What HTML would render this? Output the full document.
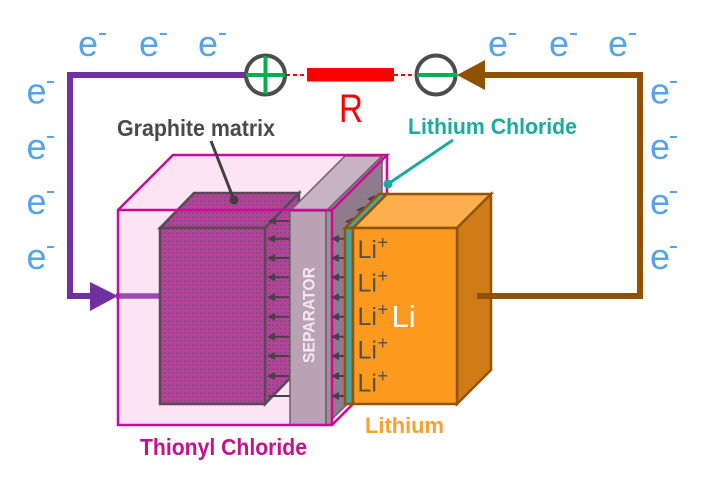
<!DOCTYPE html>
<html><head><meta charset="utf-8"><style>
html,body{margin:0;padding:0;background:#fff;}
svg{display:block;}
text{font-family:"Liberation Sans",Arial,sans-serif;}
</style></head><body>
<svg width="721" height="479" viewBox="0 0 721 479" xmlns="http://www.w3.org/2000/svg">
<defs>
<pattern id="g" width="4" height="4" patternUnits="userSpaceOnUse">
<rect width="4" height="4" fill="#be3ba2"/><rect width="2" height="2" fill="#76596f"/>
</pattern>
</defs>
<rect width="721" height="479" fill="#fff"/>

<!-- pink box fill -->
<polygon points="118,210 173,155 387,155 387,370 332,425 118,425" fill="#fce4f5"/>
<!-- light purple lead inside box -->
<line x1="116" y1="296" x2="162" y2="296" stroke="#9a4cb0" stroke-width="5.5"/>

<!-- graphite block -->
<g stroke="#5a4858" stroke-width="2.5" stroke-linejoin="miter">
<polygon points="265,228 299,193 299,369 265,404" fill="url(#g)"/>
<polygon points="160,228 194,193 299,193 265,228" fill="url(#g)"/>
<rect x="160" y="228" width="105" height="176" fill="url(#g)"/>
</g>

<!-- arrows graphite gap -->
<g stroke="#4e3c4b" stroke-width="2" fill="#4e3c4b">
<line x1="272" y1="221" x2="292" y2="221"/><polygon points="268,221 276,217 276,225" stroke="none"/>
<line x1="272" y1="238.7" x2="292" y2="238.7"/><polygon points="267,238.7 275,234.7 275,242.7" stroke="none"/>
<line x1="272" y1="258" x2="292" y2="258"/><polygon points="267,258 275,254 275,262" stroke="none"/>
<line x1="272" y1="277.3" x2="292" y2="277.3"/><polygon points="267,277.3 275,273.3 275,281.3" stroke="none"/>
<line x1="272" y1="297.3" x2="292" y2="297.3"/><polygon points="267,297.3 275,293.3 275,301.3" stroke="none"/>
<line x1="272" y1="316.7" x2="292" y2="316.7"/><polygon points="267,316.7 275,312.7 275,320.7" stroke="none"/>
<line x1="272" y1="336.7" x2="292" y2="336.7"/><polygon points="267,336.7 275,332.7 275,340.7" stroke="none"/>
<line x1="272" y1="356" x2="292" y2="356"/><polygon points="267,356 275,352 275,360" stroke="none"/>
<line x1="272" y1="376" x2="292" y2="376"/><polygon points="267,376 275,372 275,380" stroke="none"/>
<line x1="268" y1="396" x2="292" y2="396"/>
</g>

<!-- separator -->
<g stroke="#6e5e6c" stroke-width="1.5">
<polygon points="326,211 382,156 382,370 326,425" fill="#8f7b8d"/>
<polygon points="290,211 345,156 382,156 326,211" fill="#c6b4c4"/>
<rect x="290" y="211" width="36" height="214" fill="#b9a2b4"/>
<rect x="326" y="211" width="6" height="214" fill="#a38ea0"/>
</g>
<text transform="translate(314.5,363) rotate(-90)" font-size="17" font-weight="bold" fill="#f3e8f2" textLength="96" lengthAdjust="spacingAndGlyphs">SEPARATOR</text>

<!-- pink box outline -->
<g stroke="#cc0a96" stroke-width="2.5" fill="none">
<rect x="118" y="210" width="214" height="215"/>
<polyline points="118,210 173,155 387,155 332,210"/>
<polyline points="387,155 387,370 332,425"/>
</g>

<!-- arrows separator gap -->
<g stroke="#4e3c4b" stroke-width="2" fill="#4e3c4b">
<line x1="336" y1="238.7" x2="346" y2="238.7"/><polygon points="331,238.7 339,234.7 339,242.7" stroke="none"/>
<line x1="336" y1="258" x2="346" y2="258"/><polygon points="331,258 339,254 339,262" stroke="none"/>
<line x1="336" y1="277.3" x2="346" y2="277.3"/><polygon points="331,277.3 339,273.3 339,281.3" stroke="none"/>
<line x1="336" y1="297.3" x2="346" y2="297.3"/><polygon points="331,297.3 339,293.3 339,301.3" stroke="none"/>
<line x1="336" y1="316.7" x2="346" y2="316.7"/><polygon points="331,316.7 339,312.7 339,320.7" stroke="none"/>
<line x1="336" y1="336.7" x2="346" y2="336.7"/><polygon points="331,336.7 339,332.7 339,340.7" stroke="none"/>
<line x1="336" y1="356" x2="346" y2="356"/><polygon points="331,356 339,352 339,360" stroke="none"/>
<line x1="336" y1="376" x2="346" y2="376"/><polygon points="331,376 339,372 339,380" stroke="none"/>
<line x1="336" y1="396" x2="346" y2="396"/><polygon points="331,396 339,392 339,400" stroke="none"/>
<line x1="350" y1="221.5" x2="360" y2="221.5"/><polygon points="345,221.5 353,217.5 353,225.5" stroke="none"/>
<line x1="361" y1="210" x2="371" y2="210"/><polygon points="356,210 364,206 364,214" stroke="none"/>
<line x1="372" y1="199" x2="382" y2="199"/><polygon points="367,199 375,195 375,203" stroke="none"/>
</g>

<!-- lithium chloride + lithium -->
<g stroke="#935305" stroke-width="2.5" stroke-linejoin="miter">
<polygon points="345,228 379,194 387,194 353,228" fill="#4aa3a3"/>
<rect x="345" y="228" width="8" height="176" fill="#45a0a0"/>
<polygon points="353,228 387,194 491,194 457,228" fill="#feae4c"/>
<polygon points="457,228 491,194 491,370 457,404" fill="#cf7b18"/>
<rect x="353" y="228" width="104" height="176" fill="#fc9a1f"/>
</g>

<!-- Li+ labels -->
<g fill="#4f4f4f">
<text x="357.5" y="258" font-size="25">Li</text><text x="377.5" y="248.5" font-size="18">+</text>
<text x="357.5" y="291.7" font-size="25">Li</text><text x="377.5" y="282.2" font-size="18">+</text>
<text x="357.5" y="325" font-size="25">Li</text><text x="377.5" y="315.5" font-size="18">+</text>
<text x="357.5" y="358.3" font-size="25">Li</text><text x="377.5" y="348.8" font-size="18">+</text>
<text x="357.5" y="391.7" font-size="25">Li</text><text x="377.5" y="382.2" font-size="18">+</text>
</g>
<text x="391.5" y="327" font-size="31" fill="#ffffff">Li</text>

<!-- circuit -->
<polyline points="248,75 70,75 70,296 95,296" fill="none" stroke="#7030a0" stroke-width="6" stroke-linejoin="miter"/>
<polygon points="90,282 118,296 90,311" fill="#7030a0"/>
<polyline points="485,75 640,75 640,296 477,296" fill="none" stroke="#8f5200" stroke-width="6" stroke-linejoin="miter"/>
<polygon points="457,75 485,60 485,90" fill="#8f5200"/>

<line x1="286" y1="75" x2="307" y2="75" stroke="#ff0000" stroke-width="2" stroke-dasharray="4,3"/>
<line x1="394" y1="75" x2="416" y2="75" stroke="#ff0000" stroke-width="2" stroke-dasharray="4,3"/>
<rect x="307" y="68" width="87" height="13.5" fill="#ff0000"/>

<circle cx="265.5" cy="75" r="19.5" fill="#fff" stroke="#4d4d4d" stroke-width="4"/>
<line x1="246" y1="75" x2="285" y2="75" stroke="#00b050" stroke-width="4"/>
<line x1="265.5" y1="56" x2="265.5" y2="94" stroke="#00b050" stroke-width="4"/>
<circle cx="436" cy="75" r="19.5" fill="#fff" stroke="#4d4d4d" stroke-width="4"/>
<line x1="417" y1="75" x2="457" y2="75" stroke="#00b050" stroke-width="4"/>

<text x="339" y="122" font-size="40" fill="#ff0000" textLength="24" lengthAdjust="spacingAndGlyphs">R</text>

<!-- electrons -->
<g fill="#55a3ea" font-size="36">
<text x="78" y="56">e</text><text x="139" y="56">e</text><text x="198" y="56">e</text>
<text x="488" y="56">e</text><text x="549" y="56">e</text><text x="608" y="56">e</text>
<text x="26.5" y="103.5">e</text><text x="26.5" y="159">e</text><text x="26.5" y="214">e</text><text x="26.5" y="269">e</text>
<text x="650" y="103.5">e</text><text x="650" y="159">e</text><text x="650" y="214">e</text><text x="650" y="269">e</text>
<rect x="99" y="33" width="7" height="2"/><rect x="160" y="33" width="7" height="2"/><rect x="219" y="33" width="7" height="2"/>
<rect x="509" y="33" width="7" height="2"/><rect x="570" y="33" width="7" height="2"/><rect x="629" y="33" width="7" height="2"/>
<rect x="47" y="81" width="7" height="2"/><rect x="47" y="136" width="7" height="2"/><rect x="47" y="191" width="7" height="2"/><rect x="47" y="246" width="7" height="2"/>
<rect x="670" y="81" width="7" height="2"/><rect x="670" y="136" width="7" height="2"/><rect x="670" y="191" width="7" height="2"/><rect x="670" y="246" width="7" height="2"/>
</g>

<!-- labels -->
<text x="117" y="136" font-size="23" font-weight="bold" fill="#4a4a4a" textLength="158" lengthAdjust="spacingAndGlyphs">Graphite matrix</text>
<line x1="211" y1="141" x2="234" y2="200" stroke="#404040" stroke-width="3"/>
<circle cx="234" cy="200" r="4.5" fill="#404040"/>

<text x="408" y="134" font-size="22.5" font-weight="bold" fill="#1aab9f" textLength="169" lengthAdjust="spacingAndGlyphs">Lithium Chloride</text>
<line x1="453" y1="140" x2="388" y2="184" stroke="#1aab9f" stroke-width="3"/>
<circle cx="388" cy="184" r="4.5" fill="#1aab9f"/>

<text x="140" y="455" font-size="23" font-weight="bold" fill="#c5118e" textLength="167" lengthAdjust="spacingAndGlyphs">Thionyl Chloride</text>
<text x="365" y="433" font-size="22" font-weight="bold" fill="#f9a12f" textLength="79" lengthAdjust="spacingAndGlyphs">Lithium</text>
</svg>
</body></html>
